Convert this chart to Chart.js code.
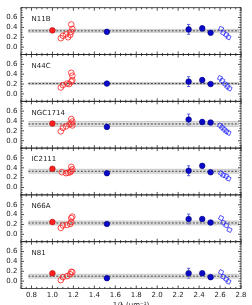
<!DOCTYPE html>
<html lang="en">
<head>
  <meta charset="UTF-8" />
  <title>Panels</title>
  <script src="https://cdn.jsdelivr.net/npm/chart.js"></script>
  <style>
    body { margin: 0; background: #fff; }
    canvas { display: block; }
  </style>
</head>
<body>
<canvas id="chart" width="252" height="305"></canvas>
<script>
// panel data, top to bottom
const panelNames = ["N11B", "N44C", "NGC1714", "IC2111", "N66A", "N81"];
const lineLevel = [0.33, 0.21, 0.34, 0.33, 0.23, 0.10];
const bandHalf = [0.03, 0.02, 0.05, 0.04, 0.04, 0.04];
const lineX = [0.77, 2.78];

const xTicks = [0.8, 1.0, 1.2, 1.4, 1.6, 1.8, 2.0, 2.2, 2.4, 2.6, 2.8];
const yTicks = [0.0, 0.2, 0.4, 0.6];

// red filled point at x = 1.0 (none for N44C)
const redFilledX = 1.0;
const redFilledY = [0.34, null, 0.35, 0.38, 0.25, 0.16];

// red open circles [x, y]
const redOpen = [
  [[1.08, 0.18], [1.10, 0.23], [1.13, 0.26], [1.15, 0.20], [1.17, 0.25], [1.18, 0.31], [1.19, 0.37], [1.18, 0.46]],
  [[1.08, 0.13], [1.10, 0.18], [1.14, 0.21], [1.16, 0.20], [1.18, 0.25], [1.19, 0.28], [1.19, 0.37], [1.18, 0.43]],
  [[1.08, 0.19], [1.10, 0.26], [1.13, 0.29], [1.16, 0.33], [1.18, 0.35], [1.19, 0.31], [1.19, 0.39], [1.18, 0.44]],
  [[1.09, 0.31], [1.13, 0.29], [1.15, 0.30], [1.17, 0.31], [1.18, 0.34], [1.19, 0.37], [1.18, 0.42]],
  [[1.08, 0.13], [1.10, 0.18], [1.14, 0.19], [1.17, 0.21], [1.18, 0.25], [1.18, 0.33], [1.19, 0.36]],
  [[1.08, 0.02], [1.10, 0.08], [1.14, 0.10], [1.17, 0.14], [1.18, 0.19], [1.19, 0.18]]
];

// blue filled points with error bars
const blueFilledX = [1.52, 2.30, 2.43, 2.51];
const blueFilledY = [
  [0.31, 0.36, 0.38, 0.29],
  [0.21, 0.25, 0.28, 0.20],
  [0.28, 0.43, 0.38, 0.37],
  [0.29, 0.34, 0.44, 0.31],
  [0.21, 0.31, 0.31, 0.24],
  [0.06, 0.16, 0.16, 0.08]
];
const blueErr = [
  [0.0, 0.10, 0.05, 0.03],
  [0.0, 0.10, 0.05, 0.03],
  [0.0, 0.11, 0.05, 0.04],
  [0.0, 0.10, 0.04, 0.03],
  [0.0, 0.10, 0.04, 0.03],
  [0.0, 0.10, 0.04, 0.03]
];

// blue open squares [x, y]
const blueOpen = [
  [[2.61, 0.37], [2.63, 0.29], [2.66, 0.25], [2.68, 0.20]],
  [[2.60, 0.32], [2.62, 0.27], [2.65, 0.20], [2.67, 0.15], [2.69, 0.11]],
  [[2.60, 0.31], [2.62, 0.27], [2.64, 0.23], [2.66, 0.19], [2.68, 0.16]],
  [[2.61, 0.29], [2.63, 0.25], [2.66, 0.23], [2.68, 0.18]],
  [[2.61, 0.33], [2.63, 0.24], [2.66, 0.18], [2.69, 0.09]],
  [[2.61, 0.18], [2.63, 0.09], [2.66, 0.04], [2.68, -0.01]]
];

const FONT = { family: "DejaVu Sans", size: 7 };
const INK = "#222";
const RED = "#ff2020";
const BLUE = "#0a0ac8";

const pts = arr => arr.map(([x, y]) => ({ x, y }));

const datasets = [];
const scales = {
  x: {
    type: "linear", position: "bottom", min: 0.7, max: 2.8,
    grid: { display: false, drawTicks: false }, border: { display: false },
    ticks: { font: FONT, color: INK, padding: 2, maxRotation: 0, autoSkip: false,
             callback: v => v.toFixed(1) },
    afterBuildTicks: s => { s.ticks = xTicks.map(v => ({ value: v })); },
    afterFit: s => { s.height = 16.5; }
  }
};

panelNames.forEach((name, p) => {
  const id = "y" + p;
  scales[id] = {
    type: "linear", position: "left", stack: "panels", stackWeight: 1,
    weight: 10 - p, min: -0.15, max: 0.8,
    grid: { display: false, drawTicks: false }, border: { display: false },
    ticks: { font: FONT, color: INK, padding: 3.5, autoSkip: false,
             callback: v => v.toFixed(1) },
    afterBuildTicks: s => { s.ticks = yTicks.map(v => ({ value: v })); },
    afterFit: s => { s.width = 21; }
  };
  const L = lineLevel[p], b = bandHalf[p];
  datasets.push({
    yAxisID: id, order: 10, showLine: true, pointRadius: 0, fill: false,
    borderColor: "rgba(150,150,150,0.7)", borderWidth: 0.6,
    data: lineX.map(x => ({ x, y: L - b }))
  });
  datasets.push({
    yAxisID: id, order: 10, showLine: true, pointRadius: 0, fill: "-1",
    backgroundColor: "rgba(190,190,190,0.45)",
    borderColor: "rgba(150,150,150,0.7)", borderWidth: 0.6,
    data: lineX.map(x => ({ x, y: L + b }))
  });
  datasets.push({
    yAxisID: id, order: 9, showLine: true, pointRadius: 0, fill: false,
    borderColor: "#111", borderWidth: 0.8, borderDash: [2, 1.5],
    data: lineX.map(x => ({ x, y: L }))
  });
  datasets.push({
    yAxisID: id, order: 2, pointStyle: "circle", pointRadius: 2.8,
    borderColor: RED, borderWidth: 0.8, backgroundColor: "rgba(0,0,0,0)",
    data: pts(redOpen[p])
  });
  datasets.push({
    yAxisID: id, order: 2, pointStyle: "rect", rotation: 25, pointRadius: 2.8,
    borderColor: "#2a2aff", borderWidth: 0.8, backgroundColor: "rgba(0,0,0,0)",
    data: pts(blueOpen[p])
  });
  if (redFilledY[p] !== null) {
    datasets.push({
      yAxisID: id, order: 1, pointStyle: "circle", pointRadius: 2.8,
      borderColor: "#b00000", borderWidth: 0.6, backgroundColor: RED,
      data: [{ x: redFilledX, y: redFilledY[p] }]
    });
  }
  datasets.push({
    yAxisID: id, order: 1, pointStyle: "circle", pointRadius: 2.8,
    borderColor: "#000080", borderWidth: 0.6, backgroundColor: BLUE,
    errBars: blueErr[p],
    data: blueFilledX.map((x, i) => ({ x, y: blueFilledY[p][i] }))
  });
});

// error bars under the blue points
const errorBars = {
  id: "errorBars",
  beforeDatasetsDraw(chart) {
    const ctx = chart.ctx;
    const xs = chart.scales.x;
    chart.data.datasets.forEach(ds => {
      if (!ds.errBars) return;
      const ys = chart.scales[ds.yAxisID];
      ctx.save();
      ctx.strokeStyle = "#5050e0";
      ctx.lineWidth = 0.9;
      ds.data.forEach((d, i) => {
        const e = ds.errBars[i];
        if (!e) return;
        const px = xs.getPixelForValue(d.x);
        const y1 = ys.getPixelForValue(d.y - e);
        const y2 = ys.getPixelForValue(d.y + e);
        ctx.beginPath();
        ctx.moveTo(px, y1); ctx.lineTo(px, y2);
        ctx.moveTo(px - 1.6, y1); ctx.lineTo(px + 1.6, y1);
        ctx.moveTo(px - 1.6, y2); ctx.lineTo(px + 1.6, y2);
        ctx.stroke();
      });
      ctx.restore();
    });
  }
};

// panel frames, inward ticks and names
const frames = {
  id: "frames",
  afterDraw(chart) {
    const ctx = chart.ctx;
    const xs = chart.scales.x;
    const left = chart.chartArea.left, right = chart.chartArea.right;
    ctx.save();
    ctx.strokeStyle = INK;
    ctx.lineWidth = 0.8;
    panelNames.forEach((name, p) => {
      const ys = chart.scales["y" + p];
      const top = ys.top, bottom = ys.bottom;
      ctx.strokeRect(left, top, right - left, bottom - top);
      ctx.beginPath();
      for (let k = 0; k <= 42; k++) {
        const v = 0.7 + k * 0.05;
        const px = xs.getPixelForValue(v);
        const major = xTicks.some(t => Math.abs(t - v) < 0.001);
        const len = major ? 3 : 1.6;
        ctx.moveTo(px, top); ctx.lineTo(px, top + len);
        ctx.moveTo(px, bottom); ctx.lineTo(px, bottom - len);
      }
      for (let k = 0; k <= 19; k++) {
        const v = -0.15 + k * 0.05;
        const py = ys.getPixelForValue(v);
        const major = yTicks.some(t => Math.abs(t - v) < 0.001);
        const len = major ? 3 : 1.6;
        ctx.moveTo(left, py); ctx.lineTo(left + len, py);
        ctx.moveTo(right, py); ctx.lineTo(right - len, py);
      }
      ctx.stroke();
      ctx.fillStyle = INK;
      ctx.font = "7px 'DejaVu Sans'";
      ctx.textAlign = "left";
      ctx.textBaseline = "middle";
      ctx.fillText(name, left + 10.5, top + 11.5);
    });
    ctx.textAlign = "center";
    ctx.textBaseline = "top";
    ctx.fillText("1/\u03bb (\u03bcm\u207b\u00b9)", (left + right) / 2, 302);
    ctx.restore();
  }
};

new Chart(document.getElementById("chart").getContext("2d"), {
  type: "scatter",
  data: { datasets },
  options: {
    responsive: false,
    animation: false,
    devicePixelRatio: 1,
    layout: { padding: { top: 3, right: 11, left: 0, bottom: 0 } },
    plugins: { legend: { display: false }, tooltip: { enabled: false } },
    scales
  },
  plugins: [errorBars, frames]
});
</script>
</body>
</html>
